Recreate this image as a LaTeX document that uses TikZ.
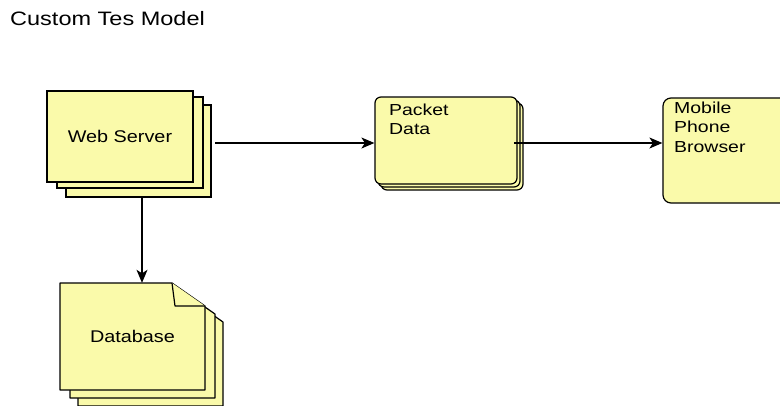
\documentclass[tikz,border=0pt]{standalone}
\usepackage{fontspec}
\setmainfont{Liberation Sans}
\usetikzlibrary{arrows.meta}
\definecolor{noteyellow}{RGB}{250,250,170}
% horizontally widened lettering
\newcommand{\widetext}[2]{\scalebox{#1}[1]{#2}}

\begin{document}
\begin{tikzpicture}[x=1bp,y=-1bp,
  layer/.style={draw=black, line width=1.2bp, fill=noteyellow, inner sep=0pt},
  roundlayer/.style={layer, rounded corners=6bp},
  notelayer/.style={draw=black, line width=1.2bp, fill=noteyellow, line join=round},
  link/.style={draw=black, line width=1.3bp, -{Stealth[length=13bp,width=11bp,inset=3.5bp]}},
  lbl/.style={inner sep=0pt, anchor=base west, text=black, align=left},
  midfont/.style={font=\fontsize{17}{20}\selectfont},
  smallfont/.style={font=\fontsize{16}{20}\selectfont}]
\useasboundingbox (0,0) rectangle (780,405);

% title
\node[lbl, font=\fontsize{19.5}{23}\selectfont] (title) at (10,25)
  {\widetext{1.21}{Custom Tes Model}};

% web server: stacked boxes
\node[layer, minimum width=145bp, minimum height=92bp] (web3) at (138.5,151) {};
\node[layer, minimum width=146bp, minimum height=91bp] (web2) at (130,142.5) {};
\node[layer, minimum width=146bp, minimum height=91bp, line width=1.4bp, midfont]
  (web) at (120,136.5) {\widetext{1.17}{Web Server}};
\draw[line width=2.4bp] (116,197) -- (142,197);

% database: stacked dog-eared notes
\draw[notelayer] (78,299) -- (190,299) -- (223,322) -- (223,406) -- (78,406) -- cycle;
\draw[notelayer] (70,291) -- (182,291) -- (215,314) -- (215,398) -- (70,398) -- cycle;
\draw[notelayer] (60,283) -- (172,283) -- (205,306) -- (205,390) -- (60,390) -- cycle;
\draw[notelayer] (172,283) -- (175,306) -- (205,306);
\node[inner sep=0pt, minimum width=145bp, minimum height=107bp, midfont]
  (db) at (132.5,336.5) {\widetext{1.17}{Database}};

% packet data: stacked rounded boxes
\node[roundlayer, minimum width=142bp, minimum height=87bp] (pkt3) at (452,146.5) {};
\node[roundlayer, minimum width=142bp, minimum height=87bp] (pkt2) at (449,143.5) {};
\node[roundlayer, minimum width=142bp, minimum height=87bp] (pkt) at (446,140.5) {};
\node[lbl, smallfont] (pktlbl) at (389,115)
  {\widetext{1.22}{\begin{tabular}[t]{@{}l@{}}Packet\\Data\end{tabular}}};

% mobile phone browser
\node[layer, rounded corners=8bp, minimum width=127bp, minimum height=105bp]
  (mob) at (726.5,150.5) {};
\node[lbl, smallfont] (moblbl) at (674,113)
  {\widetext{1.22}{\begin{tabular}[t]{@{}l@{}}Mobile\\Phone\\Browser\end{tabular}}};

% connectors
\coordinate (wsout) at (215,143);
\coordinate (dbdrop) at (142,197);
\coordinate (pktout) at (514,143);
\draw[link] (wsout) -- (wsout -| pkt.west);
\draw[link] (dbdrop) -- (dbdrop |- db.north);
\draw[link] (pktout) -- (pktout -| mob.west);
\end{tikzpicture}
\end{document}
